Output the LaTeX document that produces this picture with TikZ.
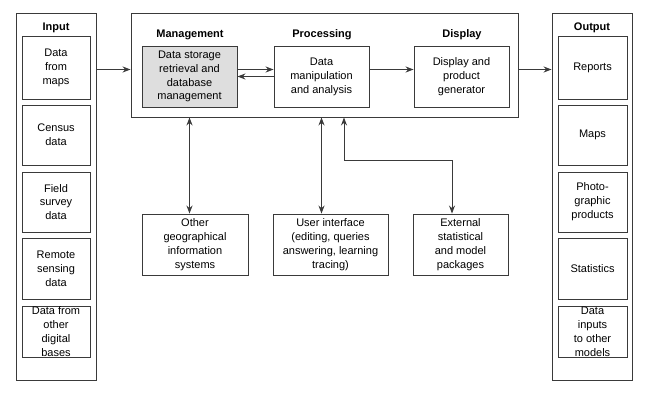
\documentclass[tikz,border=0pt]{standalone}
\usepackage{fontspec}
\setmainfont{Liberation Sans}
\usetikzlibrary{arrows.meta}
\definecolor{linec}{HTML}{3A3A3A}
\definecolor{shade}{HTML}{DEDEDE}
\begin{document}
\begin{tikzpicture}[x=1pt,y=-1pt,
  font=\fontsize{11}{13.9}\selectfont,
  box/.style={draw=linec,line width=0.9pt,align=center,inner sep=0pt},
  title/.style={font=\fontsize{11}{13.9}\selectfont\bfseries},
  arr/.style={draw=linec,line width=0.9pt,-{Stealth[length=8pt,width=6pt]}},
  twoway/.style={draw=linec,line width=0.9pt,{Stealth[length=8pt,width=6pt]}-{Stealth[length=8pt,width=6pt]}}]
\useasboundingbox (0,0) rectangle (647,401);
% frames
\node[box,minimum width=80pt,minimum height=367pt] (inp) at (56,196.5) {};
\node[box,minimum width=80pt,minimum height=367pt] (outp) at (592,196.5) {};
\node[box,minimum width=387pt,minimum height=104pt] (main) at (324.5,65) {};
\node[title] (inlab) at (56,28) {Input};
\node[title] (outlab) at (592,28) {Output};
\node[title] (mglab) at (190,35) {Management};
\node[title] (prlab) at (322,35) {Processing};
\node[title] (dilab) at (462,35) {Display};
% input and output columns
\foreach \n/\y/\h/\txt in {1/67.5/63/{Data\\from\\maps},2/135/60/{Census\\data},3/202/60/{Field\\survey\\data},4/268.5/61/{Remote\\sensing\\data},5/331.5/51/{Data from\\other\\digital\\bases}}
  \node[box,minimum width=68pt,minimum height=\h pt] (in\n) at (56,\y) {\txt};
\foreach \n/\y/\h/\txt in {1/67.5/63/{Reports},2/135/60/{Maps},3/202/60/{Photo-\\graphic\\products},4/268.5/61/{Statistics},5/331.5/51/{Data\\inputs\\to other\\models}}
  \node[box,minimum width=69pt,minimum height=\h pt] (out\n) at (592.5,\y) {\txt};
% main system
\node[box,fill=shade,minimum width=95pt,minimum height=61pt] (mgmt) at (189.5,76.5) {Data storage\\retrieval and\\database\\management};
\node[box,minimum width=95pt,minimum height=61pt] (proc) at (321.5,76.5) {Data\\manipulation\\and analysis};
\node[box,minimum width=95pt,minimum height=61pt] (disp) at (461.5,76.5) {Display and\\product\\generator};
% linked systems
\node[box,minimum width=106pt,minimum height=61pt] (oth) at (195,244.5) {Other\\geographical\\information\\systems};
\node[box,minimum width=115pt,minimum height=61pt] (ui) at (330.5,244.5) {User interface\\(editing, queries\\answering, learning\\tracing)};
\node[box,minimum width=95pt,minimum height=61pt] (ext) at (460.5,244.5) {External\\statistical\\and model\\packages};
% connectors
\coordinate (lvl) at (0,69.5);
\coordinate (tap) at (344,160);
\coordinate (turn) at (452,160);
\draw[arr] (inp.east |- lvl) -- (main.west |- lvl);
\draw[arr] (main.east |- lvl) -- (outp.west |- lvl);
\draw[arr] (mgmt.east |- lvl) -- (proc.west |- lvl);
\draw[arr] (proc.west) -- (mgmt.east);
\draw[arr] (proc.east |- lvl) -- (disp.west |- lvl);
\draw[twoway] (main.south -| mgmt) -- (oth.north -| mgmt);
\draw[twoway] (main.south -| proc) -- (ui.north -| proc);
\draw[twoway] (main.south -| tap) |- (turn) -- (ext.north -| turn);
\end{tikzpicture}
\end{document}
